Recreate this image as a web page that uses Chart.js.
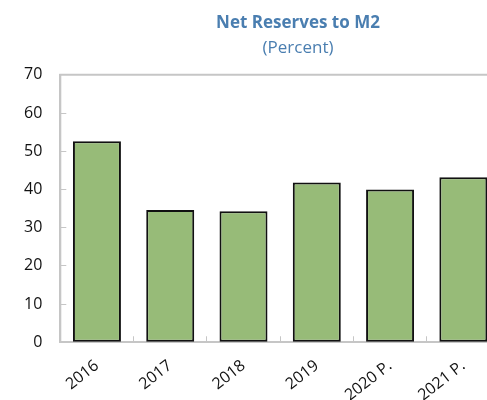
<!DOCTYPE html>
<html>
<head>
<meta charset="utf-8">
<script src="https://cdn.jsdelivr.net/npm/chart.js@4/dist/chart.umd.min.js"></script>
<style>
  html, body { margin: 0; padding: 0; background: #fff; overflow: hidden; }
  #wrap { width: 596px; height: 425px; }
</style>
</head>
<body>
<div id="wrap"><canvas id="reserves" width="596" height="425"></canvas></div>
<script>
var years = ['2016', '2017', '2018', '2019', '2020 P.', '2021 P.']
var netReserves = [52.6, 34.6, 34.3, 41.8, 40.0, 43.2]
var yTicks = [0, 10, 20, 30, 40, 50, 60, 70]

var axisGray = '#c6c6c6'
var titleBlue = '#4a7eb0'

// grey box around the plot area (top edge is the visible part)
var frame = {
  id: 'frame',
  afterDraw: function(chart){
    var a = chart.chartArea
    var ctx = chart.ctx
    ctx.save()
    ctx.strokeStyle = axisGray
    ctx.lineWidth = 2
    ctx.beginPath()
    ctx.moveTo(a.left, a.bottom)
    ctx.lineTo(a.left, a.top)
    ctx.lineTo(a.right, a.top)
    ctx.lineTo(a.right, a.bottom)
    ctx.stroke()
    ctx.restore()
  }
}

new Chart(document.getElementById('reserves'), {
  type: 'bar',
  data: {
    labels: years,
    datasets: [{
      data: netReserves,
      backgroundColor: '#97bb78',
      borderColor: '#111',
      borderWidth: 2,
      borderSkipped: false,
      barPercentage: 0.655,
      categoryPercentage: 1
    }]
  },
  options: {
    responsive: false,
    animation: false,
    plugins: {
      legend: { display: false },
      tooltip: { enabled: false },
      title: {
        display: true,
        text: 'Net Reserves to M2',
        color: titleBlue,
        font: { family: 'Open Sans', size: 17, weight: 'bold' },
        padding: { top: 13, bottom: 5 }
      },
      subtitle: {
        display: true,
        text: '(Percent)',
        color: titleBlue,
        font: { family: 'Open Sans', size: 17, weight: 'normal' },
        padding: { top: 0, bottom: 16 }
      }
    },
    scales: {
      x: {
        grid: {
          offset: true,
          drawOnChartArea: false,
          drawTicks: true,
          tickLength: -6,
          color: axisGray,
          lineWidth: 1
        },
        border: { color: axisGray, width: 2 },
        ticks: {
          color: '#111',
          font: { family: 'Open Sans', size: 16 },
          minRotation: 38,
          maxRotation: 38,
          padding: 20,
          autoSkip: false
        }
      },
      y: {
        min: 0,
        max: 70,
        afterBuildTicks: function(scale){
          scale.ticks = yTicks.map(function(v){ return { value: v } })
        },
        grid: {
          drawOnChartArea: false,
          drawTicks: true,
          tickLength: -6,
          color: axisGray,
          lineWidth: 1
        },
        border: { color: axisGray, width: 2 },
        ticks: {
          color: '#111',
          font: { family: 'Open Sans', size: 16 },
          padding: 24
        }
      },
      // empty space on the right: the original plot runs past the visible edge
      spare: {
        position: 'right',
        display: true,
        grid: { display: false },
        border: { display: false },
        ticks: { display: false },
        afterFit: function(scale){ scale.width = 96 }
      }
    }
  },
  plugins: [frame]
})
</script>
</body>
</html>
